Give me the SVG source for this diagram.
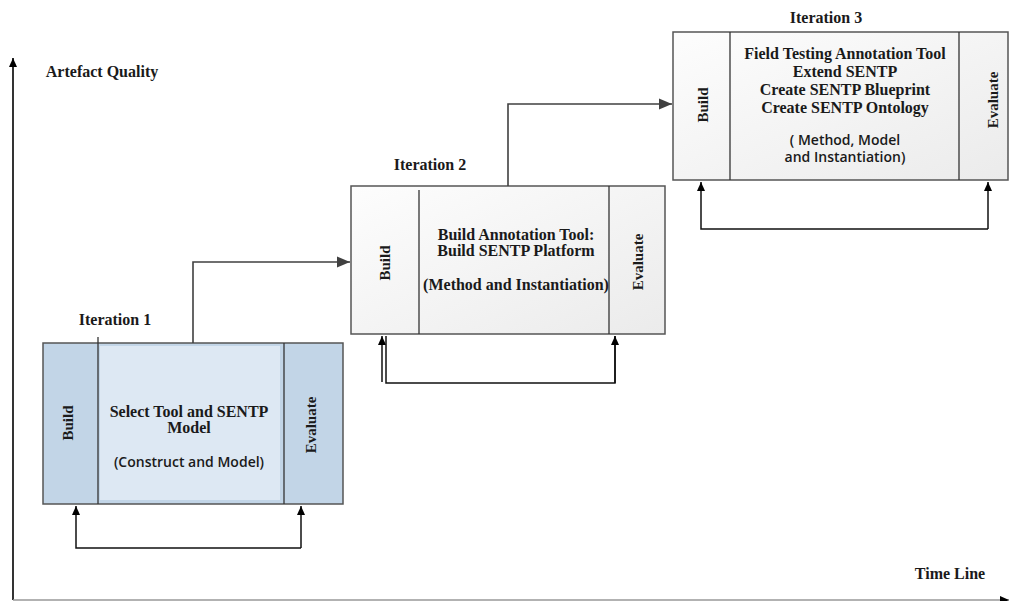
<svg xmlns="http://www.w3.org/2000/svg" width="1011" height="601" viewBox="0 0 1011 601">
<style>
.t{font-family:"Liberation Serif","Times New Roman",serif;font-weight:bold;font-size:16px;fill:#1a1a1a;text-anchor:middle}
.r{font-family:"Liberation Serif","Times New Roman",serif;font-weight:bold;font-size:15px;fill:#1a1a1a;text-anchor:middle}
.s{font-family:"Open Sans","Noto Sans",sans-serif;font-weight:600;font-size:14px;fill:#1a1a1a;text-anchor:middle}
.ax{stroke:#000;stroke-width:1.6;fill:none}
.ln{stroke:#111;stroke-width:1.5;fill:none}
.cn{stroke:#404040;stroke-width:1.6;fill:none}
.box{stroke:#555;stroke-width:1.5}
.div{stroke:#333;stroke-width:1.3}
</style>
<defs>
<marker id="ah" markerWidth="10" markerHeight="10" refX="9" refY="5" orient="auto" markerUnits="userSpaceOnUse">
<path d="M0,1 L9,5 L0,9 Z" fill="#000"/>
</marker>
<marker id="ag" markerWidth="14" markerHeight="12" refX="13" refY="6" orient="auto" markerUnits="userSpaceOnUse">
<path d="M0,0.5 L13,6 L0,11.5 Z" fill="#404040"/>
</marker>
<linearGradient id="gr" x1="0" y1="0" x2="1" y2="1">
<stop offset="0" stop-color="#fdfdfd"/>
<stop offset="1" stop-color="#ebebeb"/>
</linearGradient>
</defs>

<g id="axes">
<line class="ax" x1="13" y1="600" x2="13" y2="58" marker-end="url(#ah)"/>
<line x1="13" y1="600" x2="1009" y2="600" stroke="#999" stroke-width="1.6" marker-end="url(#ah)"/>
<text class="t" x="102" y="77">Artefact Quality</text>
<text class="t" x="950" y="579">Time Line</text>
</g>

<g id="iter1">
<text class="t" x="115" y="325">Iteration 1</text>
<rect class="box" x="43" y="343" width="300" height="161" fill="#c2d5e7"/>
<rect x="100" y="346" width="180" height="154" fill="#dde8f3"/>
<line class="div" x1="98" y1="337" x2="98" y2="504"/>
<line class="div" x1="284" y1="343" x2="284" y2="504"/>
<text class="t" x="189" y="417">Select Tool and SENTP</text>
<text class="t" x="189" y="433">Model</text>
<text class="s" x="189" y="467">(Construct and Model)</text>
<text class="r" transform="translate(73,423) rotate(-90)">Build</text>
<text class="r" transform="translate(316,425) rotate(-90)">Evaluate</text>
</g>

<g id="iter2">
<text class="t" x="430" y="170">Iteration 2</text>
<rect class="box" x="351" y="186" width="314" height="148" fill="url(#gr)"/>
<line class="div" x1="419" y1="190" x2="419" y2="334"/>
<line class="div" x1="609" y1="186" x2="609" y2="334"/>
<text class="t" x="516" y="240">Build Annotation Tool:</text>
<text class="t" x="516" y="256">Build SENTP Platform</text>
<text class="t" x="516" y="290">(Method and Instantiation)</text>
<text class="r" transform="translate(390,263) rotate(-90)">Build</text>
<text class="r" transform="translate(643,262) rotate(-90)">Evaluate</text>
</g>

<g id="iter3">
<text class="t" x="826" y="23">Iteration 3</text>
<rect class="box" x="673" y="32" width="335" height="148" fill="url(#gr)"/>
<line class="div" x1="730" y1="32" x2="730" y2="180"/>
<line class="div" x1="959" y1="32" x2="959" y2="180"/>
<text class="t" x="845" y="59">Field Testing Annotation Tool</text>
<text class="t" x="845" y="77">Extend SENTP</text>
<text class="t" x="845" y="95">Create SENTP Blueprint</text>
<text class="t" x="845" y="113">Create SENTP Ontology</text>
<text class="s" x="845" y="145">( Method, Model</text>
<text class="s" x="845" y="162">and Instantiation)</text>
<text class="r" transform="translate(708,105) rotate(-90)">Build</text>
<text class="r" transform="translate(998,100) rotate(-90)">Evaluate</text>
</g>

<g id="connectors">
<polyline class="cn" points="193,343 193,262 350,262" marker-end="url(#ag)"/>
<polyline class="cn" points="508,186 508,104 672,104" marker-end="url(#ag)"/>
<polyline class="ln" points="301,548 76,548 76,506" marker-end="url(#ah)"/>
<line class="ln" x1="301" y1="548" x2="301" y2="506" marker-end="url(#ah)"/>
<line class="ln" x1="382" y1="382" x2="382" y2="336" marker-end="url(#ah)"/>
<polyline class="ln" points="386,336 386,383 615,383 615,336"/>
<line class="ln" x1="615" y1="383" x2="615" y2="336" marker-end="url(#ah)"/>
<polyline class="ln" points="988,229 701,229 701,182" marker-end="url(#ah)"/>
<line class="ln" x1="988" y1="229" x2="988" y2="182" marker-end="url(#ah)"/>
</g>
</svg>
